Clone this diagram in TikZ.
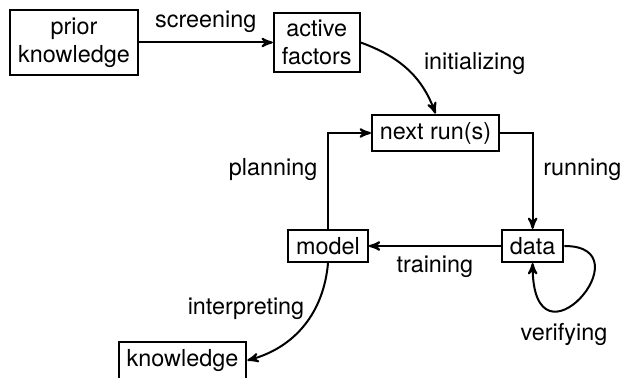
\documentclass[tikz,border=0pt]{standalone}
\usepackage{fontspec}
\setmainfont{TeX Gyre Heros}
\usetikzlibrary{positioning}
\usetikzlibrary{arrows}

\begin{document}
\begin{tikzpicture}[x=1pt, y=1pt, line width=1pt, >=stealth',
    font=\fontsize{11.7}{14}\selectfont,
    box/.style={draw, rectangle, align=center, inner xsep=4pt, inner ysep=3.7pt}]

  \useasboundingbox (0,0) rectangle (311.5,-189);

  % Define nodes
  \node[box] (prior) at (37,-21.25) {prior\\knowledge};
  \node[box, right=67pt of prior] (active) {active\\factors};
  \node[box] (next) at (217.75,-66.5) {next run(s)};
  \node[box] (model) at (164,-123) {model};
  \node[box, right=66pt of model] (data) {data};
  \node[box] (knowledge) at (91.25,-180.2) {knowledge};

  % Connect the nodes
  \draw [->] (prior) -- node[above, yshift=1pt] {screening} (active);
  \draw [->] (active.east) to[out=-20, in=110] node[pos=0.45, above right, xshift=6.5pt, yshift=-8.5pt] {initializing} (next.north);
  \draw [->] (next.east) -| node[pos=0.69, right, xshift=1.5pt] {running} (data);
  \draw [->] (data) -- node[below, yshift=-1pt] {training} (model);
  \draw [->] (model) |- node[pos=0.31, left, xshift=-1.5pt] {planning} (next);
  \draw [->] (data.east) to[out=0, in=-90, out distance=42pt, in distance=58pt] node[pos=0.6, below, xshift=-2pt, yshift=-4.5pt] {verifying} (data.south);
  \draw [->] (model.south) to[out=-95, in=15] node[pos=0.45, left, xshift=2pt, yshift=6pt] {interpreting} (knowledge.east);

\end{tikzpicture}
\end{document}
